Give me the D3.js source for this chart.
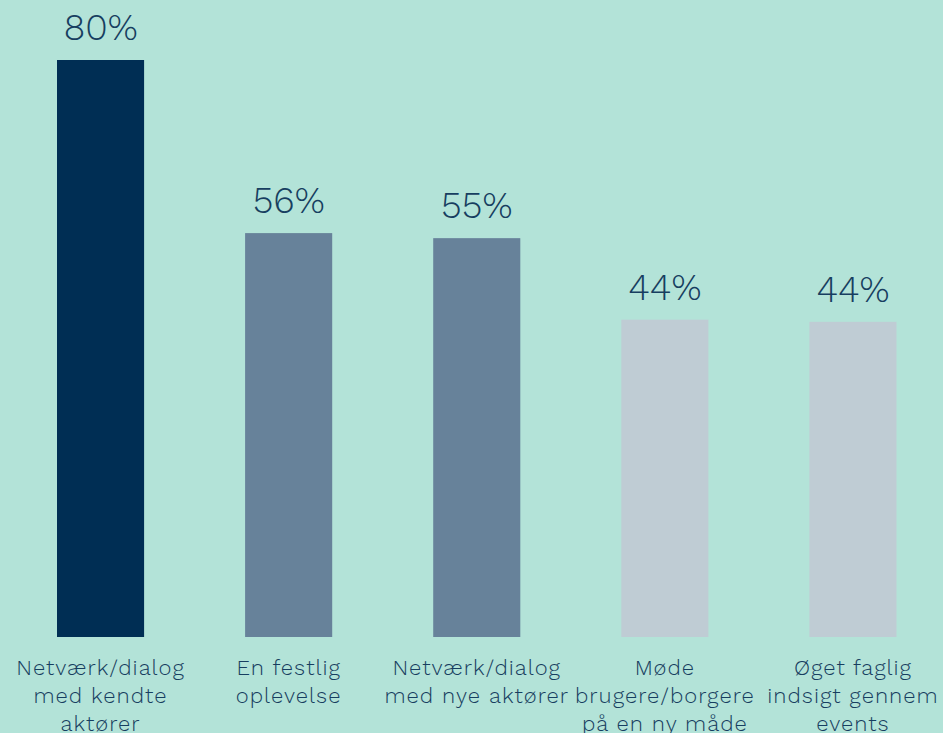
<!DOCTYPE html>
<html>
<head>
<meta charset="utf-8">
<script src="https://cdn.jsdelivr.net/npm/d3@7"></script>
<style>
  html, body { margin: 0; padding: 0; background: #b3e3d8; }
  svg { display: block; }
  text { font-family: 'Work Sans', Roboto, sans-serif; font-weight: 300; fill: #173e60; }
</style>
</head>
<body>
<svg id="chart" width="943" height="733"></svg>
<script>
const categories = [
  'Netværk/dialog\nmed kendte\naktører',
  'En festlig\noplevelse',
  'Netværk/dialog\nmed nye aktører',
  'Møde\nbrugere/borgere\npå en ny måde',
  'Øget faglig\nindsigt gennem\nevents'
];
const values = [80, 56, 55.3, 44, 43.7];
const valueLabels = ['80%', '56%', '55%', '44%', '44%'];
const colors = ['#002e54', '#67829a', '#67829a', '#bfccd4', '#bfccd4'];

const width = 943, height = 733;
const svg = d3.select('#chart');

const x = d3.scaleBand()
  .domain(categories)
  .range([6.5, 947])
  .paddingInner(0.537)
  .paddingOuter(0.2685);

const y = d3.scaleLinear().domain([0, 80]).range([637, 60]);

const data = categories.map((c, i) => ({ cat: c, value: values[i], label: valueLabels[i], color: colors[i] }));

// bars
svg.append('g')
  .selectAll('rect')
  .data(data)
  .enter()
  .append('rect')
  .attr('x', d => x(d.cat))
  .attr('y', d => y(d.value))
  .attr('width', x.bandwidth())
  .attr('height', d => y(0) - y(d.value))
  .attr('fill', d => d.color);

// value labels
svg.append('g')
  .selectAll('text')
  .data(data)
  .enter()
  .append('text')
  .attr('x', d => x(d.cat) + x.bandwidth() / 2)
  .attr('y', d => y(d.value) - 20)
  .attr('text-anchor', 'middle')
  .attr('font-size', '37px')
  .text(d => d.label);

// category labels
const cat = svg.append('g')
  .selectAll('text')
  .data(data)
  .enter()
  .append('text')
  .attr('text-anchor', 'middle')
  .attr('font-size', '22px')
  .attr('letter-spacing', '1px');
cat.selectAll('tspan')
  .data(d => d.cat.split('\n').map(t => ({ t, cx: x(d.cat) + x.bandwidth() / 2 })))
  .enter()
  .append('tspan')
  .attr('x', d => d.cx)
  .attr('y', (d, i) => 675 + i * 28)
  .text(d => d.t);
</script>
</body>
</html>
